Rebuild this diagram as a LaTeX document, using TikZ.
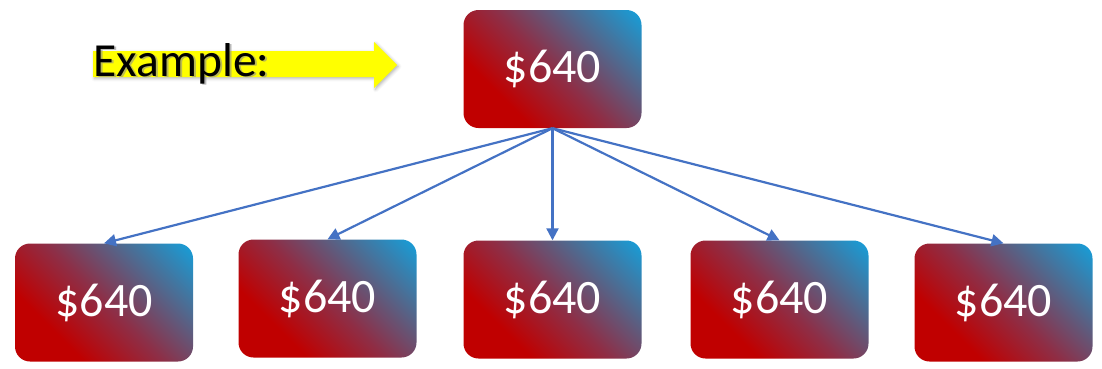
\documentclass[tikz,border=0pt]{standalone}
\usepackage{fontspec}
\setmainfont{Carlito}
\usetikzlibrary{arrows.meta,shadows.blur}
\definecolor{boxred}{HTML}{C00000}
\definecolor{boxmix}{HTML}{8E2E46}
\definecolor{boxmid}{HTML}{4F6A90}
\definecolor{boxblue}{HTML}{12A2DE}
\definecolor{linkblue}{HTML}{4472C4}
\definecolor{arrowyellow}{HTML}{FFFF00}
\pgfdeclareverticalshading{redblue}{100bp}{color(0bp)=(boxred); color(31bp)=(boxred); color(50bp)=(boxmix); color(68bp)=(boxmid); color(86bp)=(boxblue); color(100bp)=(boxblue)}
\tikzset{
  moneybox/.style={rectangle, rounded corners=15pt, minimum width=178pt, minimum height=118pt,
    inner sep=0pt, shading=redblue, shading angle=-45, text=white, font=\fontsize{48}{56}\selectfont},
  link/.style={draw=linkblue, line width=2.2pt, -{Triangle[length=12pt,width=12pt]}},
  labeltext/.style={font=\fontsize{47.5}{54}\selectfont, inner sep=0pt, anchor=base west}
}
\begin{document}
\begin{tikzpicture}[x=1pt,y=-1pt]
\useasboundingbox (0,0) rectangle (1102,368);
% yellow arrow behind label
\fill[arrowyellow, blur shadow={shadow xshift=1.5pt, shadow yshift=-1.5pt, shadow blur radius=3pt, shadow opacity=30}]
  (93,51) -- (374,51) -- (374,42) -- (397,65) -- (374,88) -- (374,77) -- (93,77) -- cycle;
\node[labeltext, text=black!45, opacity=0.6] (exshadow) at (95.5,77.5) {Example:};
\node[labeltext, text=black] (example) at (93.5,76) {Example:};
% boxes
\node[moneybox] (top) at (552.5,69) {\$640};
\node[moneybox] (b1) at (104,302.5) {\$640};
\node[moneybox] (b2) at (327.5,298.5) {\$640};
\node[moneybox] (b3) at (552.5,299.5) {\$640};
\node[moneybox] (b4) at (779.5,299.5) {\$640};
\node[moneybox] (b5) at (1003.5,302.5) {\$640};
% connectors
\foreach \t in {b1,b2,b3,b4,b5}
  \draw[link] (top.south) -- (\t.north);
\end{tikzpicture}
\end{document}
